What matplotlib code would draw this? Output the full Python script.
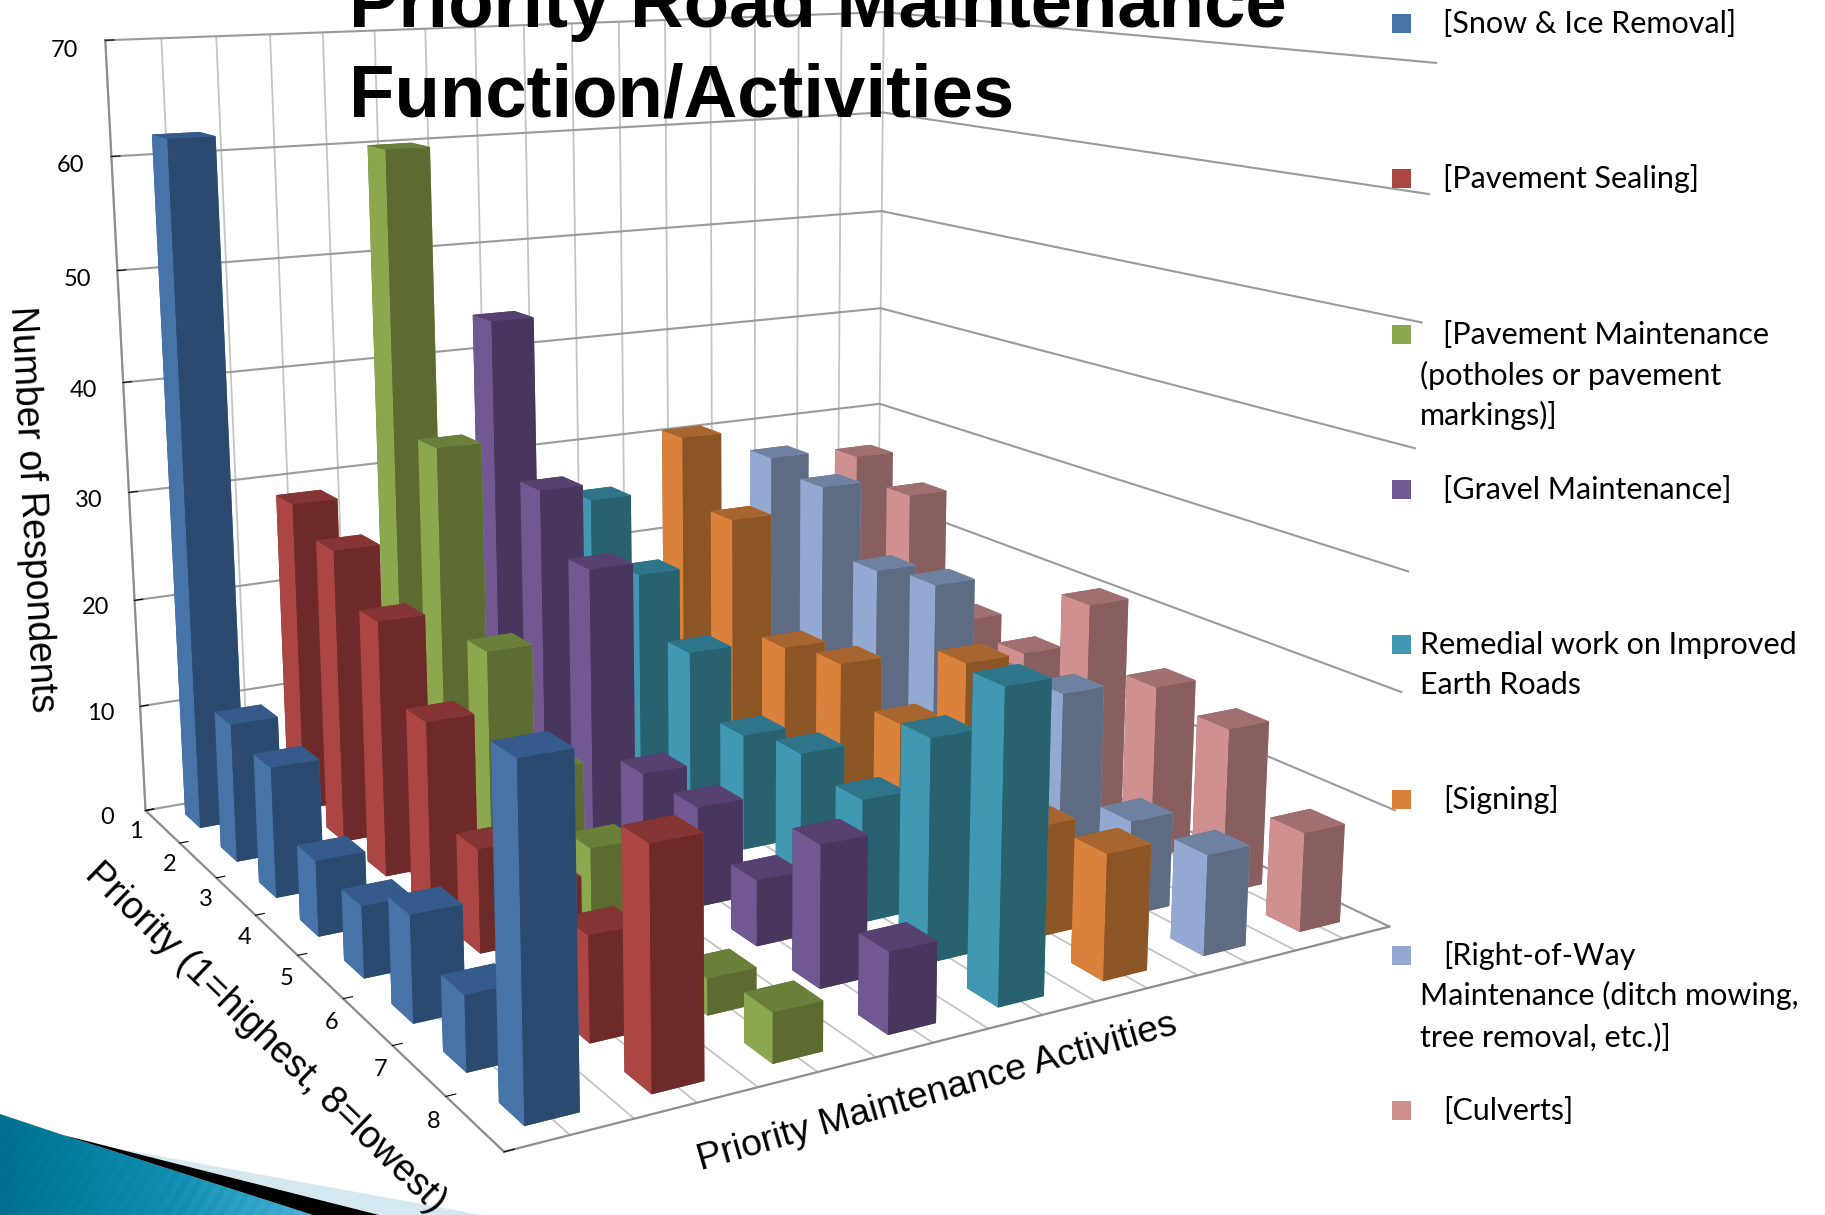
import numpy as np, matplotlib
matplotlib.use('Agg')
import matplotlib.pyplot as plt
from matplotlib.patches import Polygon, Rectangle
W,H=1825,1215
priorities=[1,2,3,4,5,6,7,8]
snow=[62,12.5,11.5,6.5,6,8.7,6,26.7]
sealing=[28.8,26.7,22.7,16.6,8.8,9,8.5,18.8]
maint=[60,34.7,18.6,10.7,7,6,3,4]
gravel=[43.7,29.7,24.6,8.7,8.7,5.6,11.8,6.6]
remedial=[25.6,20.5,15.5,10.5,11.7,10.6,18.7,25.5]
signing=[30.6,24.5,14.5,15.5,12.7,20.7,9.5,10.5]
row_way=[27.5,26.5,20.5,21.4,15,16.5,8.2,8.5]
culverts=[26.5,24.5,14.3,13.5,20.5,15.5,14.5,8.5]
series=[snow,sealing,maint,gravel,remedial,signing,row_way,culverts]
light=['#4674A9','#AB4644','#8BA84E','#725892','#4198B3','#DA823C','#94A9D1','#D09090']
dark=['#2C4A70','#6D2A28','#5C6C31','#48365C','#28626F','#8C5526','#5D6C83','#885E5E']
top=['#355B8C','#853533','#697F3A','#574170','#2F7589','#A76630','#6F81A1','#A06F6F']
legend_labels=[['[Snow & Ice Removal]'],['[Pavement Sealing]'],['[Pavement Maintenance','(potholes or pavement','markings)]'],
['[Gravel Maintenance]'],['Remedial work on Improved','Earth Roads'],['[Signing]'],['[Right-of-Way','Maintenance (ditch mowing,','tree removal, etc.)]'],['[Culverts]']]
legend_y=[23,178,334,489,644,799,955,1110]

fig=plt.figure(figsize=(18.25,12.15),dpi=100,facecolor='white')
ax=fig.add_axes([-0.02735,-0.03078,0.83287,1.25101],projection='3d',computed_zorder=False)
ax.set_xlim(0,8);ax.set_ylim(8,0);ax.set_zlim(0,70)
ax.view_init(elev=12.851,azim=-119.59,roll=0.10765)
ax.set_proj_type('persp',focal_length=0.3325)
ax.set_box_aspect((1,0.97586,0.87969))
ax.patch.set_alpha(0)
bw=0.43
off=(1-bw)/2
order=0
for a in range(7,-1,-1):
    for p in range(8):
        order+=1
        ax.bar3d([a+off],[p+off],[0],[bw],[bw],[series[a][p]],
                 color=[top[a],top[a],dark[a],dark[a],light[a],light[a]],shade=False,zorder=order,
                 edgecolor='none',linewidth=0)
grey='#8e8e8e'
for axis in (ax.xaxis,ax.yaxis,ax.zaxis):
    axis.set_pane_color((1,1,1,0))
    axis.pane.set_edgecolor((1,1,1,0))
    axis.line.set_color(grey)
    axis.line.set_linewidth(1.6)
    axis._axinfo['tick']['inward_factor']=0
    axis._axinfo['tick']['outward_factor']=0.12
ax.xaxis._axinfo['tick']['outward_factor']=0
ax.xaxis._axinfo['grid'].update(color='#c4c4c4',linewidth=1.3)
ax.yaxis._axinfo['grid'].update(color=(1,1,1,0),linewidth=0)
ax.zaxis._axinfo['grid'].update(color='#9a9a9a',linewidth=1.5)
ax.set_xticks(np.arange(0,8.5,.5));ax.set_xticklabels([])
ax.set_yticks(np.arange(0,9));ax.set_yticklabels([str(v) for v in priorities]+[''])
ax.set_zticks(np.arange(0,80,10))
ax.tick_params(axis='z',labelsize=17,colors='black',pad=12)
ax.tick_params(axis='y',labelsize=17,colors='black',pad=-1)
ax.tick_params(axis='x',colors=grey)
for t in ax.get_yticklabels()+ax.get_zticklabels():
    t.set_fontfamily('Lato')

ov=fig.add_axes([0,0,1,1],zorder=5)
ov.set_xlim(0,W);ov.set_ylim(H,0);ov.axis('off');ov.patch.set_alpha(0)
# corner decoration
ov.add_patch(Polygon([[120,1149],[482,1215],[379,1215]],closed=True,fc='#D3E8F1',ec='none'))
xx,yy=np.meshgrid(np.linspace(0,330,660),np.linspace(1114,1215,202))
grad=xx/330+0.035*np.sin((xx+yy*0.6)/2.2)
cmap=matplotlib.colors.LinearSegmentedColormap.from_list('t',['#00708F','#0D8CAF','#4FB6DC'])
im=ov.imshow(grad,extent=[0,330,1215,1114],cmap=cmap,aspect='auto',zorder=1,vmin=0,vmax=1)
clip=Polygon([[0,1114],[63,1135],[313,1215],[0,1215]],closed=True,transform=ov.transData,fc='none',ec='none')
ov.add_patch(clip);im.set_clip_path(clip)
ov.add_patch(Polygon([[63,1135],[379,1215],[313,1215]],closed=True,fc='black',ec='none',zorder=2))
ov.set_xlim(0,W);ov.set_ylim(H,0)
# title
ov.text(349,27,'Priority Road Maintenance',fontfamily='Liberation Sans',fontweight='bold',fontsize=53.6,va='baseline',ha='left',color='black',zorder=6)
ov.text(349,116,'Function/Activities',fontfamily='Liberation Sans',fontweight='bold',fontsize=53.6,va='baseline',ha='left',color='black',zorder=6)
# axis titles
ov.text(32,509,'Number of Respondents',fontfamily='Liberation Sans',fontsize=27,rotation=-87,ha='center',va='center',rotation_mode='anchor',zorder=6)
ov.text(265,1038,'Priority (1=highest, 8=lowest)',fontfamily='Liberation Sans',fontsize=27,rotation=-44,ha='center',va='center',rotation_mode='anchor',zorder=6)
ov.text(937,1093,'Priority Maintenance Activities',fontfamily='Liberation Sans',fontsize=26.9,rotation=16,ha='center',va='center',rotation_mode='anchor',zorder=6)
# legend
for lab,y,col in zip(legend_labels,legend_y,light):
    ov.add_patch(Rectangle((1392,y-9.5),19,19,fc=col,ec='none',zorder=6))
    for i,line in enumerate(lab):
        x=1420 if (i>0 or lab[0].startswith('Remedial')) else 1443
        ov.text(x,y+10+i*40.5,line,fontfamily='Lato',fontsize=22,va='baseline',ha='left',color='black',zorder=6)
fig.savefig('out.png',dpi=100)
